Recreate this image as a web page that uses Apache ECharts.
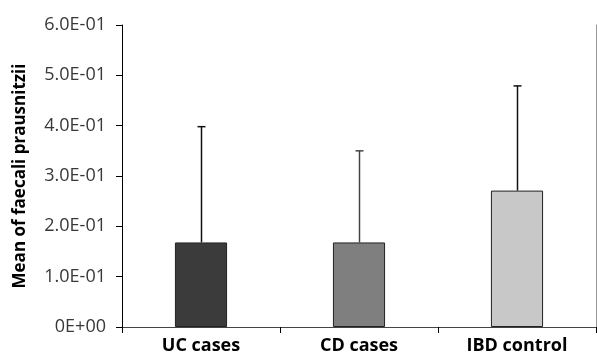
<!DOCTYPE html>
<html>
<head>
<meta charset="utf-8">
<script src="https://cdn.jsdelivr.net/npm/echarts@6/dist/echarts.min.js"></script>
<style>html,body{margin:0;padding:0;background:#fff;}#c{width:597px;height:356px;}</style>
</head>
<body>
<div id="c"></div>
<script>
var categories = ['UC cases', 'CD cases', 'IBD control'];
var means = [0.168, 0.168, 0.271];
var upperErr = [0.398, 0.350, 0.479];
var barColors = ['#3b3b3b', '#7f7f7f', '#c8c8c8'];
var errColors = ['#111111', '#444444', '#111111'];
var yTickLabels = ['0E+00', '1.0E-01', '2.0E-01', '3.0E-01', '4.0E-01', '5.0E-01', '6.0E-01'];

var chart = echarts.init(document.getElementById('c'), null, {renderer: 'canvas'});
var errData = categories.map(function (c, i) { return [i, means[i], upperErr[i]]; });

chart.setOption({
  animation: false,
  grid: {left: 122, top: 25, right: 1, bottom: 29, containLabel: false},
  xAxis: [{
    type: 'category', data: categories,
    axisLine: {lineStyle: {color: '#000', width: 1}},
    axisTick: {show: true, length: 6, lineStyle: {color: '#000'}},
    axisLabel: {color: '#000', fontFamily: 'Open Sans', fontWeight: 'bold', fontSize: 18, margin: 10}
  }, {
    type: 'category', data: categories, position: 'top',
    axisLine: {show: true, lineStyle: {color: '#444', width: 1}},
    axisTick: {show: false}, axisLabel: {show: false}
  }],
  yAxis: [{
    type: 'value', min: 0, max: 0.6, interval: 0.1,
    name: 'Mean of faecali prausnitzii', nameLocation: 'middle', nameGap: 93,
    nameTextStyle: {color: '#000', fontFamily: 'Open Sans', fontWeight: 'bold', fontSize: 17, padding: [0, 0, 0, 0]},
    axisLine: {show: true, lineStyle: {color: '#000', width: 1}},
    axisTick: {show: true, length: 6, lineStyle: {color: '#000'}},
    splitLine: {show: false},
    axisLabel: {
      color: '#383838', fontFamily: 'Open Sans', fontSize: 18, margin: 16,
      formatter: function (v) { return yTickLabels[Math.round(v * 10)]; }
    }
  }, {
    type: 'value', min: 0, max: 0.6, position: 'right',
    axisLine: {show: true, lineStyle: {color: '#999', width: 1}},
    axisTick: {show: false}, axisLabel: {show: false}, splitLine: {show: false}
  }],
  series: [{
    type: 'bar', barWidth: '33%',
    data: means.map(function (v, i) {
      return {value: v, itemStyle: {color: barColors[i], borderColor: '#222', borderWidth: 1}};
    })
  }, {
    type: 'custom', data: errData,
    renderItem: function (params, api) {
      var x = api.value(0);
      var p0 = api.coord([x, api.value(1)]);
      var p1 = api.coord([x, api.value(2)]);
      var cx = Math.round(p0[0]) + 0.5;
      var col = errColors[params.dataIndex];
      return {type: 'group', children: [
        {type: 'line', shape: {x1: cx, y1: p0[1], x2: cx, y2: p1[1]}, style: {stroke: col, lineWidth: 1.5}},
        {type: 'line', shape: {x1: cx - 4, y1: p1[1], x2: cx + 4, y2: p1[1]}, style: {stroke: col, lineWidth: 1.5}}
      ]};
    }
  }]
});
</script>
</body>
</html>
